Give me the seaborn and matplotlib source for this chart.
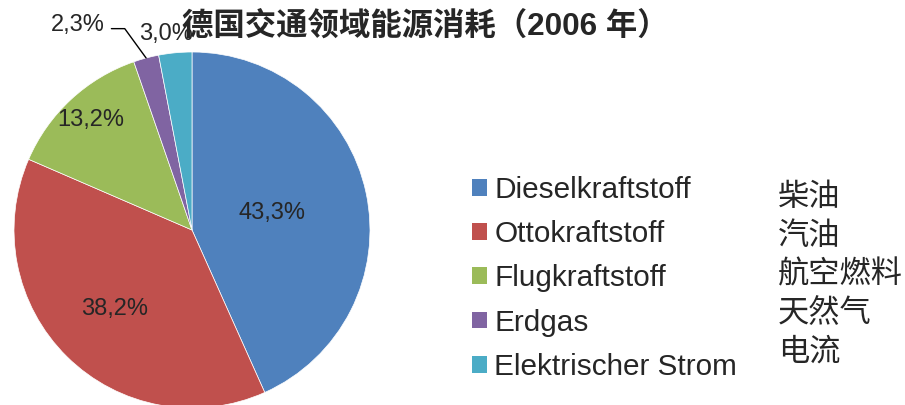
import numpy as np
import matplotlib
matplotlib.use('Agg')
import matplotlib.pyplot as plt
import seaborn as sns
from matplotlib.patches import Patch

sns.set_style('white')
plt.rcParams['font.family'] = ['Liberation Sans', 'Noto Sans CJK SC', 'DejaVu Sans']

# Daten
categories = ['Dieselkraftstoff', 'Ottokraftstoff', 'Flugkraftstoff', 'Erdgas', 'Elektrischer Strom']
categories_cn = ['柴油', '汽油', '航空燃料', '天然气', '电流']
shares = [43.3, 38.2, 13.2, 2.3, 3.0]
share_labels = ['43,3%', '38,2%', '13,2%', '2,3%', '3,0%']
title = '德国交通领域能源消耗（2006 年）'

colors = ['#4F81BD', '#C0504D', '#9BBB59', '#8064A2', '#4BACC6']

W, H = 905, 405
fig = plt.figure(figsize=(W / 100, H / 100), dpi=100)

# Kreisdiagramm: Mittelpunkt (192, 230) px, Radius 178 px
cx, cy, r = 192, 230, 178
ax = fig.add_axes([(cx - r) / W, (H - cy - r) / H, 2 * r / W, 2 * r / H])
wedges, _ = ax.pie(shares, colors=colors, startangle=90, counterclock=False,
                   wedgeprops=dict(linewidth=0.5, edgecolor='white'))
ax.set_xlim(-1, 1)
ax.set_ylim(-1, 1)
ax.set_aspect('equal')
ax.axis('off')

# Beschriftungen der Segmente
label_dist = [0.46, 0.62, 0.84, None, 1.105]
for w, lab, d in zip(wedges, share_labels, label_dist):
    ang = np.deg2rad((w.theta1 + w.theta2) / 2)
    if d is None:
        # kleines Segment mit Führungslinie
        ex, ey = np.cos(ang), np.sin(ang)
        ax.plot([ex, ex - 0.12, ex - 0.195], [ey, ey + 0.165, ey + 0.165],
                color='black', lw=1, clip_on=False)
        ax.text(ex - 0.235, ey + 0.185, lab, ha='right', va='center', fontsize=17, clip_on=False)
        continue
    shift = -0.04 if d > 1 else 0
    ax.text(d * np.cos(ang) + shift, d * np.sin(ang), lab,
            ha='center', va='center', fontsize=17, clip_on=False)

# Titel (liegt wie im Original teilweise über "3,0%")
fig.text(425 / W, 1 - 26 / H, title, ha='center', va='center', fontsize=22.6, fontweight='bold')

# Legende
handles = [Patch(facecolor=c, edgecolor='none') for c in colors]
fig.legend(handles, categories, loc='center left', bbox_to_anchor=(472 / W, 1 - 278.5 / H),
           frameon=False, fontsize=21.4, handlelength=0.5, handleheight=0.5,
           handletextpad=0.25, labelspacing=0.54, borderpad=0, borderaxespad=0)

# Chinesische Übersetzungen
for i, t in enumerate(categories_cn):
    fig.text(778 / W, 1 - (197 + i * 38.75) / H, t, ha='left', va='center', fontsize=22.5,
             family=['Noto Sans CJK SC', 'DejaVu Sans'])

fig.savefig('out.png', dpi=100)
